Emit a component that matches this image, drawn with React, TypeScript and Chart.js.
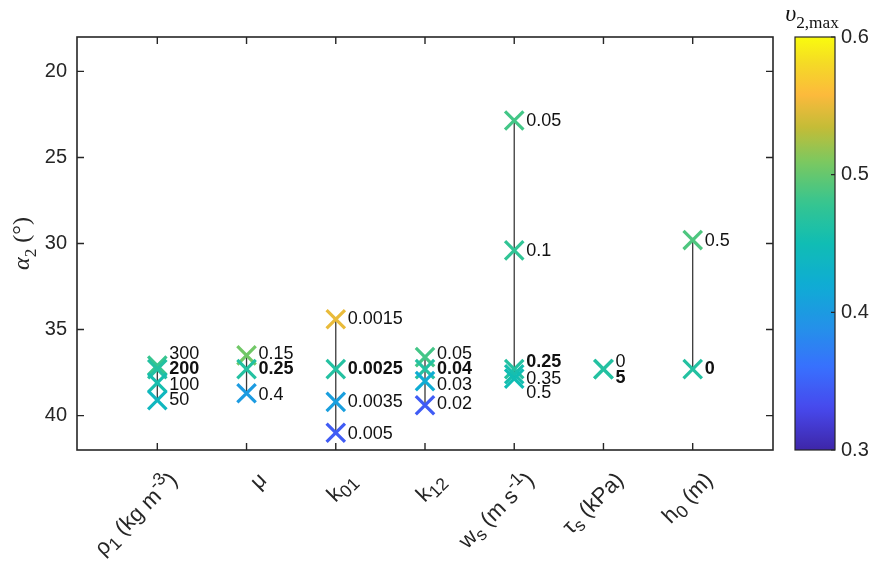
import React, { useEffect, useRef } from 'react';
import { Chart, registerables } from 'chart.js';

Chart.register(...registerables);

const FONT = '"Liberation Sans", Arial, Helvetica, sans-serif';
const SERIF = '"Liberation Serif", "DejaVu Serif", "Times New Roman", serif';

// ---------- data ----------
const categoryIds = ['rho1', 'mu', 'k01', 'k12', 'ws', 'taus', 'h0'];
// rich tick labels: [text, kind] kind: '' | 'sub' | 'sup'
const xTickLabels: [string, string][][] = [
  [['ρ', ''], ['1', 'sub'], [' (kg m', ''], ['-3', 'sup'], [')', '']],
  [['μ', '']],
  [['k', ''], ['01', 'sub']],
  [['k', ''], ['12', 'sub']],
  [['w', ''], ['s', 'sub'], [' (m s', ''], ['-1', 'sup'], [')', '']],
  [['τ', ''], ['s', 'sub'], [' (kPa)', '']],
  [['h', ''], ['0', 'sub'], [' (m)', '']],
];
const yTicks = [20, 25, 30, 35, 40];
const cbTicks = [0.3, 0.4, 0.5, 0.6];

const rhoValues = ['300', '200', '100', '50'];
const rhoAlpha = [37.1, 37.3, 38.1, 39.1];
const rhoV2 = [0.48, 0.465, 0.455, 0.44];
const rhoTextAlpha = [36.45, 37.3, 38.2, 39.1];

const muValues = ['0.15', '0.25', '0.4'];
const muAlpha = [36.5, 37.3, 38.7];
const muV2 = [0.505, 0.465, 0.4];
const muTextAlpha = [36.4, 37.3, 38.8];

const k01Values = ['0.0015', '0.0025', '0.0035', '0.005'];
const k01Alpha = [34.4, 37.3, 39.2, 41.0];
const k01V2 = [0.55, 0.465, 0.405, 0.345];
const k01TextAlpha = [34.4, 37.3, 39.2, 41.05];

const k12Values = ['0.05', '0.04', '0.03', '0.02'];
const k12Alpha = [36.6, 37.3, 38.0, 39.4];
const k12V2 = [0.485, 0.465, 0.42, 0.345];
const k12TextAlpha = [36.45, 37.3, 38.2, 39.35];

const wsValues = ['0.05', '0.1', '0.25', '0.35', '0.5'];
const wsAlpha = [22.85, 30.4, 37.3, 37.6, 37.85];
const wsV2 = [0.485, 0.475, 0.465, 0.455, 0.45];
const wsTextAlpha = [22.9, 30.45, 36.9, 37.85, 38.7];

const tauValues = ['0', '5'];
const tauAlpha = [37.3, 37.3];
const tauV2 = [0.465, 0.465];
const tauTextAlpha = [36.9, 37.8];

const h0Values = ['0.5', '0'];
const h0Alpha = [29.8, 37.3];
const h0V2 = [0.49, 0.465];
const h0TextAlpha = [29.85, 37.3];

const defaultValues = ['200', '0.25', '0.0025', '0.04', '0.25', '5', '0'];

// ---------- colormap (parula-like) ----------
const parulaStops: number[][] = [
  [0.0, 62, 38, 168],
  [0.1, 71, 72, 236],
  [0.2, 56, 112, 254],
  [0.3, 35, 146, 232],
  [0.4, 15, 172, 212],
  [0.5, 16, 189, 180],
  [0.6, 55, 197, 143],
  [0.7, 125, 200, 95],
  [0.78, 195, 188, 55],
  [0.86, 252, 186, 60],
  [0.93, 245, 215, 40],
  [1.0, 249, 251, 14],
];
const CMIN = 0.3;
const CMAX = 0.6;
function parula(t: number): string {
  t = Math.max(0, Math.min(1, t));
  for (let i = 1; i < parulaStops.length; i++) {
    const a = parulaStops[i - 1];
    const b = parulaStops[i];
    if (t <= b[0]) {
      const f = (t - a[0]) / (b[0] - a[0]);
      const r = Math.round(a[1] + f * (b[1] - a[1]));
      const g = Math.round(a[2] + f * (b[2] - a[2]));
      const bl = Math.round(a[3] + f * (b[3] - a[3]));
      return `rgb(${r},${g},${bl})`;
    }
  }
  return 'rgb(249,251,14)';
}
const colorOf = (v: number) => parula((v - CMIN) / (CMAX - CMIN));

const groups = [
  { values: rhoValues, alpha: rhoAlpha, v2: rhoV2, text: rhoTextAlpha },
  { values: muValues, alpha: muAlpha, v2: muV2, text: muTextAlpha },
  { values: k01Values, alpha: k01Alpha, v2: k01V2, text: k01TextAlpha },
  { values: k12Values, alpha: k12Alpha, v2: k12V2, text: k12TextAlpha },
  { values: wsValues, alpha: wsAlpha, v2: wsV2, text: wsTextAlpha },
  { values: tauValues, alpha: tauAlpha, v2: tauV2, text: tauTextAlpha },
  { values: h0Values, alpha: h0Alpha, v2: h0V2, text: h0TextAlpha },
];

// ---------- drawing helpers ----------
function drawRuns(
  ctx: CanvasRenderingContext2D,
  runs: [string, string][],
  x: number,
  y: number,
  size: number,
  family: string,
  align: 'left' | 'right' | 'center',
  smallScale = 0.72
) {
  const specs = runs.map(([t, kind]) => {
    const small = kind.includes('sub') || kind.includes('sup');
    const sz = small ? size * smallScale : size;
    const it = kind.includes('it');
    const font = `${it ? 'italic ' : ''}${sz}px ${family}`;
    ctx.font = font;
    const w = ctx.measureText(t).width;
    const dy = kind.includes('sub') ? size * 0.28 : kind.includes('sup') ? -size * 0.38 : 0;
    return { t, font, w, dy };
  });
  const total = specs.reduce((s, r) => s + r.w, 0);
  let cx = align === 'right' ? x - total : align === 'center' ? x - total / 2 : x;
  ctx.textAlign = 'left';
  for (const s of specs) {
    ctx.font = s.font;
    ctx.fillText(s.t, cx, y + s.dy);
    cx += s.w;
  }
}

const decorPlugin = {
  id: 'decor',
  afterDatasetsDraw(chart: any) {
    const ctx: CanvasRenderingContext2D = chart.ctx;
    const xs = chart.scales.x;
    const ys = chart.scales.y;
    ctx.save();
    ctx.fillStyle = '#111';
    ctx.textBaseline = 'middle';
    groups.forEach((g, gi) => {
      const px = xs.getPixelForValue(gi + 1);
      g.values.forEach((lab, i) => {
        const bold = lab === defaultValues[gi];
        ctx.font = `${bold ? 'bold ' : ''}18px ${FONT}`;
        ctx.textAlign = 'left';
        ctx.fillText(lab, px + 12, ys.getPixelForValue(g.text[i]));
      });
    });
    ctx.restore();
  },
  afterDraw(chart: any) {
    const ctx: CanvasRenderingContext2D = chart.ctx;
    const { left, right, top, bottom } = chart.chartArea;
    const xs = chart.scales.x;
    const ys = chart.scales.y;
    const vs = chart.scales.v;
    ctx.save();
    // frame
    ctx.strokeStyle = '#262626';
    ctx.lineWidth = 1.6;
    ctx.strokeRect(left, top, right - left, bottom - top);
    ctx.lineWidth = 1.4;
    const TL = 7;
    ctx.beginPath();
    yTicks.forEach((v) => {
      const py = ys.getPixelForValue(v);
      ctx.moveTo(left, py);
      ctx.lineTo(left + TL, py);
      ctx.moveTo(right, py);
      ctx.lineTo(right - TL, py);
    });
    categoryIds.forEach((_, i) => {
      const px = xs.getPixelForValue(i + 1);
      ctx.moveTo(px, bottom);
      ctx.lineTo(px, bottom - TL);
      ctx.moveTo(px, top);
      ctx.lineTo(px, top + TL);
    });
    ctx.stroke();

    // x tick labels (rotated, rich)
    ctx.fillStyle = '#262626';
    ctx.textBaseline = 'middle';
    xTickLabels.forEach((runs, i) => {
      const px = xs.getPixelForValue(i + 1);
      ctx.save();
      ctx.translate(px + 17, bottom + 27);
      ctx.rotate(-Math.PI / 4);
      drawRuns(ctx, runs, 0, 0, 22, FONT, 'right', 0.8);
      ctx.restore();
    });

    // y axis title
    ctx.save();
    ctx.translate(29, (top + bottom) / 2);
    ctx.rotate(-Math.PI / 2);
    ctx.textBaseline = 'alphabetic';
    drawRuns(ctx, [['α', 'it'], ['2', 'sub'], [' (', ''], ['°', ''], [')', '']], 0, 0, 24, SERIF, 'center');
    ctx.restore();

    // colorbar
    const cbL = 795;
    const cbR = 835;
    const y0 = vs.getPixelForValue(CMIN);
    const y1 = vs.getPixelForValue(CMAX);
    const grad = ctx.createLinearGradient(0, y0, 0, y1);
    for (let k = 0; k <= 64; k++) grad.addColorStop(k / 64, parula(k / 64));
    ctx.fillStyle = grad;
    ctx.fillRect(cbL, y1, cbR - cbL, y0 - y1);
    ctx.strokeStyle = '#262626';
    ctx.lineWidth = 1.2;
    ctx.strokeRect(cbL, y1, cbR - cbL, y0 - y1);
    ctx.beginPath();
    cbTicks.forEach((v) => {
      const py = vs.getPixelForValue(v);
      ctx.moveTo(cbR, py);
      ctx.lineTo(cbR - 4, py);
    });
    ctx.stroke();
    ctx.fillStyle = '#262626';
    ctx.font = `20px ${FONT}`;
    ctx.textAlign = 'left';
    ctx.textBaseline = 'middle';
    cbTicks.forEach((v) => {
      ctx.fillText(v.toFixed(1), cbR + 6, vs.getPixelForValue(v));
    });
    ctx.textBaseline = 'alphabetic';
    ctx.fillStyle = '#111';
    drawRuns(ctx, [['υ', 'it'], ['2,max', 'sub']], (cbL + cbR) / 2 - 3, 21, 24, SERIF, 'center');
    ctx.restore();
  },
};

export default function App() {
  const ref = useRef<HTMLCanvasElement>(null);
  useEffect(() => {
    if (!ref.current) return;
    const datasets: any[] = [];
    groups.forEach((g, gi) => {
      const x = gi + 1;
      const lo = Math.min(...g.alpha);
      const hi = Math.max(...g.alpha);
      if (hi > lo) {
        datasets.push({
          type: 'line',
          data: [
            { x, y: lo },
            { x, y: hi },
          ],
          borderColor: '#3a3a3a',
          borderWidth: 1.3,
          pointRadius: 0,
          order: 2,
        });
      }
      const cols = g.v2.map(colorOf);
      datasets.push({
        type: 'scatter',
        data: g.alpha.map((a) => ({ x, y: a })),
        pointStyle: 'crossRot',
        pointRadius: 13,
        pointBorderWidth: 3.2,
        pointBorderColor: cols,
        pointBackgroundColor: cols,
        borderColor: cols,
        order: 1,
      });
    });
    const chart = new Chart(ref.current, {
      type: 'scatter',
      data: { datasets },
      options: {
        responsive: false,
        animation: false,
        devicePixelRatio: 1,
        layout: { padding: { top: 37, right: 100, left: 0, bottom: 0 } },
        plugins: { legend: { display: false }, tooltip: { enabled: false } },
        scales: {
          x: {
            type: 'linear',
            min: 0.1,
            max: 7.9,
            ticks: { display: false },
            grid: { display: false, drawTicks: false },
            border: { display: false },
            afterBuildTicks: (s: any) => {
              s.ticks = categoryIds.map((_, i) => ({ value: i + 1 }));
            },
            afterFit: (s: any) => {
              s.height = 112;
            },
          },
          y: {
            type: 'linear',
            reverse: true,
            min: 18,
            max: 42,
            ticks: { font: { family: FONT, size: 20 }, color: '#262626', padding: 10 },
            grid: { display: false, drawTicks: false },
            border: { display: false },
            afterBuildTicks: (s: any) => {
              s.ticks = yTicks.map((v) => ({ value: v }));
            },
            afterFit: (s: any) => {
              s.width = 77;
            },
          },
          v: {
            type: 'linear',
            display: false,
            position: 'right',
            min: CMIN,
            max: CMAX,
          },
        },
      } as any,
      plugins: [decorPlugin],
    });
    return () => chart.destroy();
  }, []);
  return (
    <div style={{ position: 'absolute', left: 0, top: 0, width: 873, height: 562, background: '#fff' }}>
      <canvas ref={ref} width={873} height={562} />
    </div>
  );
}
